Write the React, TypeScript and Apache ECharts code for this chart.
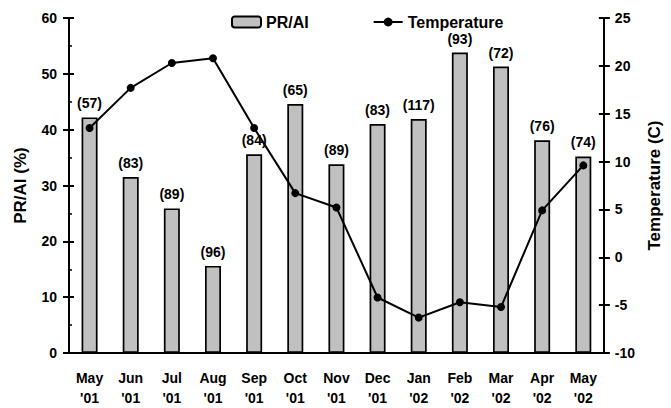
import React, { useEffect, useRef } from "react";
import * as echarts from "echarts";

const months = ["May\n'01", "Jun\n'01", "Jul\n'01", "Aug\n'01", "Sep\n'01", "Oct\n'01", "Nov\n'01", "Dec\n'01", "Jan\n'02", "Feb\n'02", "Mar\n'02", "Apr\n'02", "May\n'02"];
const prai = [42.2, 31.5, 25.9, 15.6, 35.6, 44.6, 33.8, 41.0, 41.9, 53.8, 51.3, 38.1, 35.2];
const counts = ["(57)", "(83)", "(89)", "(96)", "(84)", "(65)", "(89)", "(83)", "(117)", "(93)", "(72)", "(76)", "(74)"];
const temperature = [13.5, 17.7, 20.3, 20.8, 13.5, 6.7, 5.2, -4.2, -6.3, -4.7, -5.2, 4.9, 9.6];

const FONT = "Liberation Sans, Arial, sans-serif";

export default function App() {
  const ref = useRef<HTMLDivElement>(null);
  useEffect(() => {
    if (!ref.current) return;
    const chart = echarts.init(ref.current, null, { renderer: "svg" });
    const axisText = { color: "#000", fontWeight: "bold" as const, fontSize: 14, fontFamily: FONT };
    const nameText = { color: "#000", fontWeight: "bold" as const, fontSize: 17, fontFamily: FONT };
    const tickStyle = { color: "#000", width: 2 };
    chart.setOption({
      animation: false,
      backgroundColor: "#fff",
      textStyle: { fontFamily: FONT },
      legend: {
        left: 226,
        top: 9,
        itemWidth: 29,
        itemHeight: 11,
        itemGap: 64,
        textStyle: { color: "#000", fontWeight: "bold", fontSize: 16, fontFamily: FONT },
        data: ["PR/AI", "Temperature"],
      },
      grid: { left: 69, right: 58, top: 18, bottom: 50 },
      xAxis: [
        {
          type: "category",
          data: months,
          axisLine: { lineStyle: { color: "#000", width: 2 } },
          axisTick: { length: 6, lineStyle: tickStyle },
          axisLabel: { ...axisText, interval: 0, lineHeight: 20, margin: 15 },
        },
        {
          type: "category",
          data: months,
          position: "bottom",
          axisLine: { show: false },
          axisTick: { inside: true, length: 6, lineStyle: tickStyle },
          axisLabel: { show: false },
        },
      ],
      yAxis: [
        {
          type: "value",
          min: 0,
          max: 60,
          interval: 10,
          name: "PR/AI (%)",
          nameLocation: "middle",
          nameRotate: 90,
          nameGap: 40,
          nameTextStyle: nameText,
          axisLine: { show: true, lineStyle: { color: "#000", width: 2 } },
          axisTick: { show: true, length: 6, lineStyle: tickStyle },
          minorTick: { show: false },
          axisLabel: { ...axisText, margin: 12 },
          splitLine: { show: false },
        },
        {
          type: "value",
          min: -10,
          max: 25,
          interval: 5,
          position: "right",
          name: "Temperature (C)",
          nameLocation: "middle",
          nameRotate: 90,
          nameGap: 41,
          nameTextStyle: nameText,
          axisLine: { show: true, lineStyle: { color: "#000", width: 2 } },
          axisTick: { show: true, length: 6, lineStyle: tickStyle },
          axisLabel: { ...axisText, margin: 11 },
          splitLine: { show: false },
        },
        {
          type: "value",
          min: 0,
          max: 60,
          interval: 10,
          position: "left",
          axisLine: { show: false },
          axisTick: { show: true, inside: true, length: 5, lineStyle: tickStyle },
          minorTick: { show: true, splitNumber: 2, length: 3, lineStyle: { color: "#000", width: 1.5 } },
          axisLabel: { show: false },
          splitLine: { show: false },
        },
        {
          type: "value",
          min: -10,
          max: 25,
          interval: 5,
          position: "right",
          axisLine: { show: false },
          axisTick: { show: true, inside: true, length: 5, lineStyle: tickStyle },
          axisLabel: { show: false },
          splitLine: { show: false },
        },
      ],
      series: [
        {
          name: "PR/AI",
          type: "bar",
          yAxisIndex: 0,
          barWidth: 16,
          data: prai,
          itemStyle: { color: "#c0c0c0", borderColor: "#000", borderWidth: 1.7 },
          label: {
            show: true,
            position: "top",
            distance: 7,
            color: "#000",
            fontWeight: "bold",
            fontSize: 14,
            fontFamily: FONT,
            formatter: (p: any) => counts[p.dataIndex],
          },
        },
        {
          name: "Temperature",
          type: "line",
          yAxisIndex: 1,
          data: temperature,
          symbol: "circle",
          symbolSize: 8,
          lineStyle: { color: "#000", width: 2 },
          itemStyle: { color: "#000" },
          z: 5,
        },
      ],
    });
    return () => chart.dispose();
  }, []);
  return <div ref={ref} style={{ width: 671, height: 408, position: "absolute", left: 0, top: 0 }} />;
}
